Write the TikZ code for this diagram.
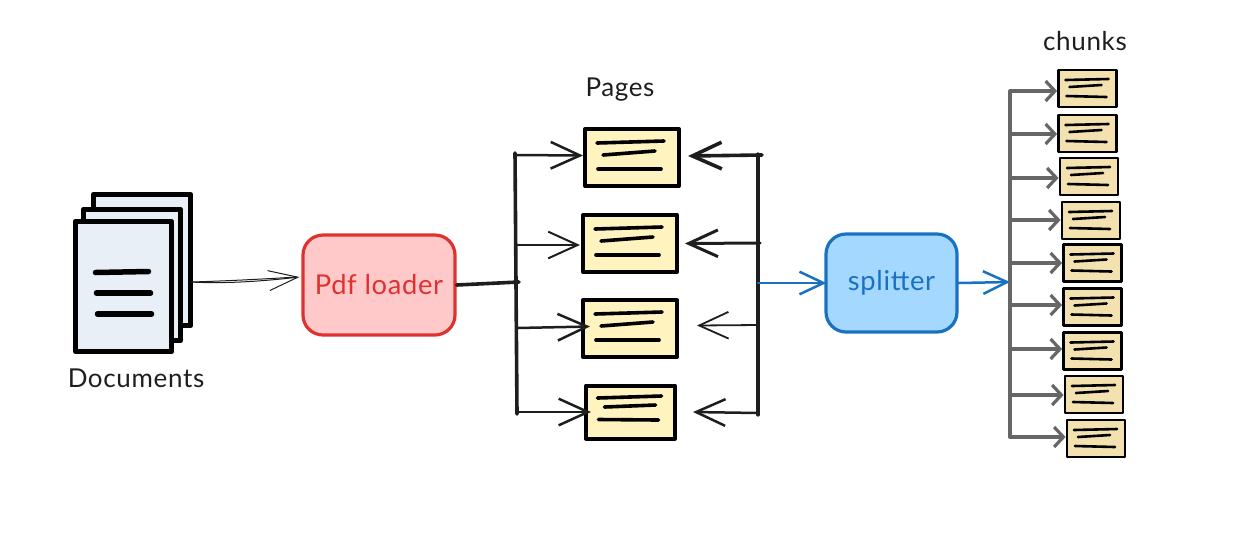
\documentclass[tikz,border=0pt]{standalone}
\usepackage{fontspec}
\setmainfont{Lato}[LetterSpace=2.5]
\usetikzlibrary{arrows.meta,calc}
\newdimen\pxu \pxu=0.75pt
\definecolor{ink}{HTML}{1E1E1E}
\definecolor{redline}{HTML}{E03131}
\definecolor{redfill}{HTML}{FFC9C9}
\definecolor{blueline}{HTML}{1971C2}
\definecolor{bluefill}{HTML}{A5D8FF}
\definecolor{pagefill}{HTML}{FFF3BF}
\definecolor{chunkfill}{HTML}{F3E2B0}
\definecolor{docfill}{HTML}{E9EFF7}
\definecolor{busgray}{HTML}{666666}
\tikzset{
  sheet/.style={draw=black,fill=docfill,line width=5.5\pxu,line join=round,inner sep=0pt},
  pagecard/.style={draw=black,fill=pagefill,line width=4\pxu,line join=round,inner sep=0pt},
  chunkcard/.style={draw=black,fill=chunkfill,line width=2.8\pxu,line join=round,inner sep=0pt},
  stage/.style={rounded corners=20\pxu,line width=3.2\pxu,inner sep=0pt,font=\fontsize{20.5pt}{24pt}\selectfont},
  lab/.style={text=ink,inner sep=0pt,font=\fontsize{19.5pt}{24pt}\selectfont},
  bar/.style={line cap=round},
  bigbarb/.style={-{Straight Barb[length=22pt,width=20pt]},line cap=round},
  midbarb/.style={-{Straight Barb[length=18pt,width=17pt]},line cap=round},
  tinybarb/.style={-{Straight Barb[length=7pt,width=15pt]},line cap=round},
}
\newcommand{\pagelines}[1]{%
  \begin{scope}[shift={(#1.center)},line width=3.6\pxu,line cap=round,black]
    \draw (-35,-14.5) -- (32,-16.5);
    \draw (-29,-2.5) -- (23,-6.5);
    \draw (-34,11.5) -- (29,11.5);
  \end{scope}}
\newcommand{\chunklines}[1]{%
  \begin{scope}[shift={(#1.center)},line width=2.6\pxu,line cap=round,black]
    \draw (-22,-8.5) -- (21,-9.5);
    \draw (-18,-1.5) -- (14,-3.5);
    \draw (-21,7.5) -- (19,8.5);
  \end{scope}}
\begin{document}
\begin{tikzpicture}[x=0.75pt,y=-0.75pt]
\useasboundingbox (0,0) rectangle (1238,537);
% documents
\node[sheet,minimum width=97\pxu,minimum height=131\pxu] (d3) at (142,260) {};
\node[sheet,minimum width=97\pxu,minimum height=131\pxu] (d2) at (132,275) {};
\node[sheet,minimum width=96\pxu,minimum height=130\pxu] (d1) at (123.5,286.5) {};
\begin{scope}[shift={(d1.center)},line width=5.5\pxu,line cap=round,black]
  \draw (-28,-14) -- (25,-15);
  \draw (-27,6.5) -- (27,6.5);
  \draw (-26,27.5) -- (28,27.5);
\end{scope}
\node[lab] (doclabel) at (136,378) {Documents};
% stages
\node[stage,draw=redline,fill=redfill,text=redline,minimum width=152\pxu,minimum height=100\pxu] (loader) at (379,285) {\raisebox{1pt}{Pdf loader}};
\node[stage,draw=blueline,fill=bluefill,text=blueline,minimum width=131\pxu,minimum height=98\pxu] (splitter) at (891.5,283) {splitter};
% pages
\node[lab] (pageslabel) at (620,90) {Pages};
\node[pagecard,minimum width=94\pxu,minimum height=57\pxu] (p1) at (632,157.5) {};
\node[pagecard,minimum width=94\pxu,minimum height=57\pxu] (p2) at (630,243.5) {};
\node[pagecard,minimum width=94\pxu,minimum height=57\pxu] (p3) at (630,328.5) {};
\node[pagecard,minimum width=89\pxu,minimum height=53\pxu] (p4) at (630.5,412) {};
\pagelines{p1}\pagelines{p2}\pagelines{p3}
\begin{scope}[shift={(p4.center)},line width=3.6\pxu,line cap=round,black]
  \draw (-33,-14) -- (31,-16);
  \draw (-26,-5) -- (25,-7);
  \draw (-32,7.5) -- (28,8);
\end{scope}
% chunks
\node[lab] (chunkslabel) at (1085,41) {chunks};
\foreach \n/\cx/\cy in {c1/1087.5/88.5,c2/1087.5/133.5,c3/1089/176.5,c4/1091/220.5,c5/1092.5/263,c6/1092.5/307,c7/1092.5/351,c8/1094/394.5,c9/1096/438.5}{
  \node[chunkcard,minimum width=58\pxu,minimum height=37\pxu] (\n) at (\cx,\cy) {};
  \chunklines{\n}
}
% document to loader
\coordinate (dout) at (191,282);
\draw[ink,line width=1\pxu,-{Straight Barb[length=22pt,width=15pt]}] (dout) .. controls (225,284) and (265,281) .. ($(loader.west)+(-2,-8)$);
\draw[ink,line width=1\pxu] (dout) .. controls (225,281) and (265,279) .. ($(loader.west)+(-5,-8)$);
% left bus
\coordinate (lt) at (515,153);
\coordinate (lb) at (517,414);
\coordinate (lj) at (519,282);
\coordinate (l1) at (515,155);
\coordinate (l2) at (516,245);
\coordinate (l3) at (517,328);
\coordinate (l4) at (517,412);
\draw[bar,ink,line width=3.6\pxu] (lt) -- (lb);
\draw[bar,ink,line width=3.6\pxu] (loader.east) -- (lj);
\draw[bigbarb,ink,line width=2.5\pxu] (l1) -- ($(p1.west)+(0,-2)$);
\draw[bigbarb,ink,line width=2\pxu] (l2) -- ($(p2.west)+(-1,1.5)$);
\draw[bigbarb,ink,line width=2.5\pxu] (l3) -- ($(p3.west)+(9,-2)$);
\draw[bigbarb,ink,line width=2.5\pxu] (l4) -- ($(p4.west)+(7,0)$);
% right bus
\coordinate (rt) at (758,154);
\coordinate (rb) at (758,415);
\coordinate (r1) at (762,155);
\coordinate (r2) at (760,243);
\coordinate (r3) at (758,325);
\coordinate (r4) at (758,413);
\coordinate (rj) at (758,283);
\draw[bar,ink,line width=3.2\pxu] (rt) -- (rb);
\draw[bigbarb,ink,line width=3.6\pxu] (r1) -- ($(p1.east)+(7,-1.5)$);
\draw[bigbarb,ink,line width=3\pxu] (r2) -- ($(p2.east)+(6,0)$);
\draw[bigbarb,ink,line width=1.8\pxu] (r3) -- ($(p3.east)+(18,-3)$);
\draw[bigbarb,ink,line width=2.5\pxu] (r4) -- ($(p4.east)+(16,0)$);
% blue links
\coordinate (cj) at (1010,282);
\draw[midbarb,blueline,line width=2.5\pxu] (rj) -- ($(splitter.west)+(2,0)$);
\draw[midbarb,blueline,line width=2.5\pxu] (splitter.east) -- (cj);
% chunk bus
\coordinate (gt) at (1010,91);
\coordinate (gb) at (1010,437);
\draw[bar,busgray,line width=3.6\pxu] (gt) -- (gb);
\foreach \n/\y in {c1/91,c2/134,c3/178,c4/220,c5/263,c6/305,c7/349,c8/395,c9/437}{
  \coordinate (g\n) at (1010,\y);
  \draw[tinybarb,busgray,line width=3.2\pxu] (g\n) -- (\n.west |- g\n);
}
\end{tikzpicture}
\end{document}
